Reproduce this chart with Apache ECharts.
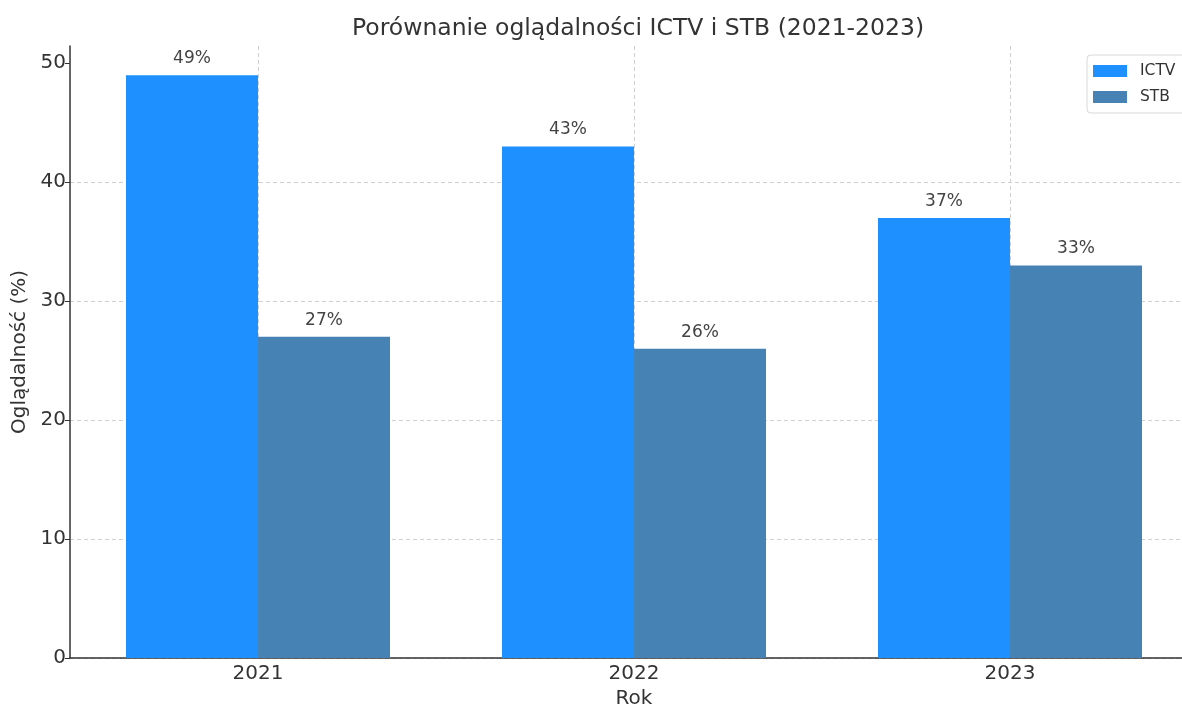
<!DOCTYPE html>
<html>
<head>
<meta charset="utf-8">
<script src="https://cdn.jsdelivr.net/npm/echarts@6/dist/echarts.min.js"></script>
<style>
  html, body { margin: 0; padding: 0; background: #fff; }
  #box { width: 1182px; height: 706px; }
</style>
</head>
<body>
<div id="box"></div>
<script>
// dane
var years = ['2021', '2022', '2023'];
var ictv = [49, 43, 37];
var stb = [27, 26, 33];
var yTicks = [0, 10, 20, 30, 40, 50];

var font = 'DejaVu Sans';
var chart = echarts.init(document.getElementById('box'));

var option = {
    backgroundColor: '#ffffff',
    animation: false,
    color: ['#1e90ff', '#4682b4'],
    title: {
        text: 'Porównanie oglądalności ICTV i STB (2021-2023)',
        left: 633,
        textAlign: 'center',
        top: 12,
        textStyle: { fontFamily: font, fontSize: 23.5, fontWeight: 'normal', color: '#333' }
    },
    legend: {
        left: 1087,
        top: 55,
        orient: 'vertical',
        icon: 'rect',
        itemWidth: 34,
        itemHeight: 12,
        itemGap: 10,
        padding: [8, 30, 8, 6],
        borderColor: '#d8d8d8',
        borderWidth: 1,
        borderRadius: 4,
        textStyle: { fontFamily: font, fontSize: 15.5, color: '#333', padding: [0, 0, 0, 8] },
        data: ['ICTV', 'STB']
    },
    grid: {
        left: 70,
        top: 46,
        width: 1128,
        bottom: 48,
        outerBoundsMode: 'none'
    },
    xAxis: {
        type: 'category',
        data: years,
        name: 'Rok',
        nameLocation: 'middle',
        nameGap: 30,
        nameTextStyle: { fontFamily: font, fontSize: 20, color: '#333' },
        axisLine: { lineStyle: { color: '#333', width: 1.5 } },
        axisTick: { alignWithLabel: true, inside: true, length: 5, lineStyle: { color: '#333' } },
        axisLabel: { fontFamily: font, fontSize: 20, color: '#333', margin: 6 },
        splitLine: {
            show: true,
            alignWithLabel: true,
            lineStyle: { type: [4, 3], color: '#d0d0d0', width: 1 }
        }
    },
    yAxis: {
        type: 'value',
        min: 0,
        max: 51.45,
        interval: 10,
        name: 'Oglądalność (%)',
        nameLocation: 'middle',
        nameGap: 33,
        nameTextStyle: { fontFamily: font, fontSize: 20, color: '#333' },
        axisLine: { show: true, lineStyle: { color: '#333', width: 1.5 } },
        axisTick: { show: true, length: 5, customValues: yTicks, lineStyle: { color: '#333' } },
        axisLabel: {
            fontFamily: font, fontSize: 20, color: '#333', margin: 4,
            customValues: yTicks
        },
        splitLine: { show: true, showMaxLine: false, lineStyle: { type: [4, 3], color: '#d0d0d0', width: 1 } }
    },
    series: [
        {
            name: 'ICTV',
            type: 'bar',
            data: ictv,
            barWidth: 132,
            barGap: '0%',
            label: {
                show: true, position: 'top', distance: 8,
                formatter: '{c}%',
                fontFamily: font, fontSize: 17, color: '#444'
            }
        },
        {
            name: 'STB',
            type: 'bar',
            data: stb,
            barWidth: 132,
            barGap: '0%',
            label: {
                show: true, position: 'top', distance: 8,
                formatter: '{c}%',
                fontFamily: font, fontSize: 17, color: '#444'
            }
        }
    ]
};

chart.setOption(option);
</script>
</body>
</html>
